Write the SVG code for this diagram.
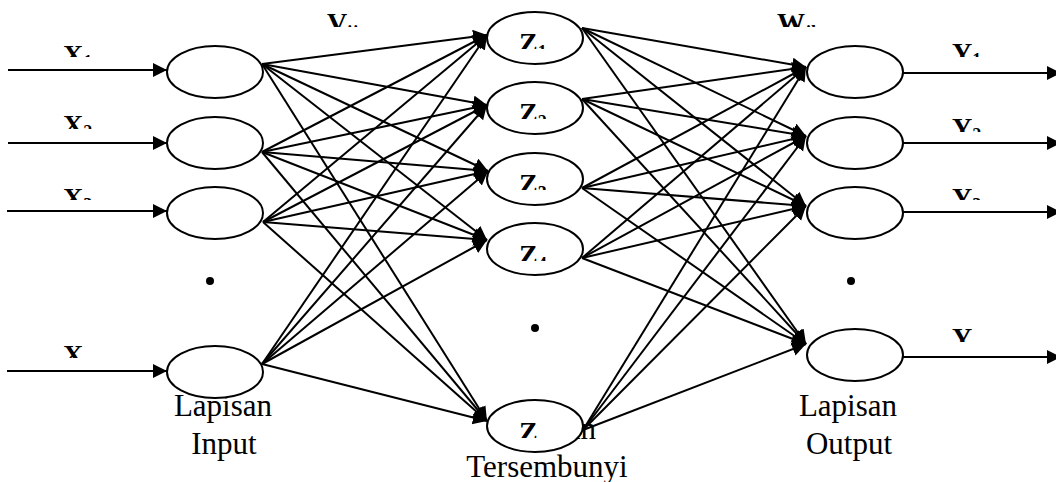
<svg xmlns="http://www.w3.org/2000/svg" width="1056" height="482" viewBox="0 0 1056 482">
<style>
.node{fill:#fff;stroke:#000;stroke-width:2}
.c line{stroke:#000;stroke-width:2;marker-end:url(#ah)}
.lbl{font-family:"Liberation Serif","Times New Roman",serif;font-weight:bold;font-size:28px;fill:#000}
.sub{font-size:18px}
.layer{font-family:"Liberation Serif","Times New Roman",serif;font-size:31px;fill:#000;text-anchor:middle}
</style>
<defs>
<marker id="ah" markerUnits="userSpaceOnUse" markerWidth="16" markerHeight="16" refX="14" refY="7" orient="auto">
<path d="M0,0 L14,7 L0,14 z" fill="#000"/>
</marker>
<clipPath id="cx1"><rect x="0" y="0" width="160" height="57"/></clipPath>
<clipPath id="cx2"><rect x="0" y="100" width="160" height="29"/></clipPath>
<clipPath id="cx3"><rect x="0" y="175" width="160" height="25"/></clipPath>
<clipPath id="cx4"><rect x="0" y="330" width="160" height="28"/></clipPath>
<clipPath id="cy1"><rect x="900" y="0" width="156" height="57"/></clipPath>
<clipPath id="cy2"><rect x="900" y="100" width="156" height="32"/></clipPath>
<clipPath id="cy3"><rect x="900" y="175" width="156" height="25"/></clipPath>
<clipPath id="cy4"><rect x="900" y="315" width="156" height="27"/></clipPath>
<clipPath id="cz1"><rect x="490" y="15" width="90" height="34"/></clipPath>
<clipPath id="cz2"><rect x="490" y="85" width="90" height="34"/></clipPath>
<clipPath id="cz3"><rect x="490" y="156" width="90" height="34"/></clipPath>
<clipPath id="cz4"><rect x="490" y="226" width="90" height="35"/></clipPath>
<clipPath id="cz5"><rect x="490" y="403" width="90" height="35"/></clipPath>
<clipPath id="cv"><rect x="300" y="0" width="120" height="27"/></clipPath>
<clipPath id="cw"><rect x="750" y="0" width="120" height="27"/></clipPath>
</defs>

<g id="layer-labels">
<text class="layer" x="223" y="416">Lapisan</text>
<text class="layer" x="224" y="454">Input</text>
<text class="layer" x="547" y="439">Lapisan</text>
<text class="layer" x="547" y="477">Tersembunyi</text>
<text class="layer" x="848" y="416">Lapisan</text>
<text class="layer" x="849" y="454">Output</text>
</g>

<g id="connectors" class="c">
<line x1="8" y1="70" x2="167" y2="70"/>
<line x1="8" y1="143" x2="167" y2="143"/>
<line x1="7" y1="211" x2="167" y2="211"/>
<line x1="7" y1="371" x2="167" y2="371"/>

<line x1="262" y1="64" x2="487" y2="35"/>
<line x1="262" y1="64" x2="487" y2="105"/>
<line x1="262" y1="64" x2="488" y2="171"/>
<line x1="262" y1="64" x2="487" y2="240"/>
<line x1="262" y1="64" x2="487" y2="421"/>

<line x1="262" y1="152" x2="487" y2="35"/>
<line x1="262" y1="152" x2="487" y2="105"/>
<line x1="262" y1="152" x2="488" y2="171"/>
<line x1="262" y1="152" x2="487" y2="240"/>
<line x1="262" y1="152" x2="487" y2="421"/>

<line x1="263" y1="222" x2="487" y2="35"/>
<line x1="263" y1="222" x2="487" y2="105"/>
<line x1="263" y1="222" x2="488" y2="171"/>
<line x1="263" y1="222" x2="487" y2="240"/>
<line x1="263" y1="222" x2="487" y2="421"/>

<line x1="262" y1="364" x2="487" y2="35"/>
<line x1="262" y1="364" x2="487" y2="105"/>
<line x1="262" y1="364" x2="488" y2="171"/>
<line x1="262" y1="364" x2="487" y2="240"/>
<line x1="262" y1="364" x2="487" y2="421"/>

<line x1="582" y1="28" x2="806" y2="67"/>
<line x1="582" y1="28" x2="806" y2="136"/>
<line x1="582" y1="28" x2="806" y2="206"/>
<line x1="582" y1="28" x2="806" y2="344"/>

<line x1="582" y1="99" x2="806" y2="67"/>
<line x1="582" y1="99" x2="806" y2="136"/>
<line x1="582" y1="99" x2="806" y2="206"/>
<line x1="582" y1="99" x2="806" y2="344"/>

<line x1="582" y1="188" x2="806" y2="67"/>
<line x1="582" y1="188" x2="806" y2="136"/>
<line x1="582" y1="188" x2="806" y2="206"/>
<line x1="582" y1="188" x2="806" y2="344"/>

<line x1="582" y1="258" x2="806" y2="67"/>
<line x1="582" y1="258" x2="806" y2="136"/>
<line x1="582" y1="258" x2="806" y2="206"/>
<line x1="582" y1="258" x2="806" y2="344"/>

<line x1="583" y1="430" x2="806" y2="67"/>
<line x1="583" y1="430" x2="806" y2="136"/>
<line x1="583" y1="430" x2="806" y2="206"/>
<line x1="583" y1="430" x2="806" y2="344"/>

<line x1="903" y1="73" x2="1061" y2="73"/>
<line x1="903" y1="143" x2="1061" y2="143"/>
<line x1="903" y1="212" x2="1061" y2="212"/>
<line x1="903" y1="357" x2="1061" y2="357"/>
</g>

<g id="input-1"><ellipse class="node" cx="215" cy="72" rx="48" ry="26"/></g>
<g id="input-2"><ellipse class="node" cx="215" cy="143" rx="48" ry="26"/></g>
<g id="input-3"><ellipse class="node" cx="215" cy="213" rx="48" ry="26"/></g>
<g id="input-dots"><circle cx="210" cy="281" r="4" fill="#000"/></g>
<g id="input-n"><ellipse class="node" cx="215" cy="372" rx="48" ry="26"/></g>

<g id="hidden-1"><ellipse class="node" cx="535" cy="38" rx="48" ry="26"/>
<text class="lbl" x="519" y="51.5" clip-path="url(#cz1)">Z<tspan class="sub" dy="6">1</tspan></text></g>
<g id="hidden-2"><ellipse class="node" cx="535" cy="108" rx="48" ry="26"/>
<text class="lbl" x="519" y="121.5" clip-path="url(#cz2)">Z<tspan class="sub" dy="6">2</tspan></text></g>
<g id="hidden-3"><ellipse class="node" cx="535" cy="179" rx="48" ry="26"/>
<text class="lbl" x="519" y="192.5" clip-path="url(#cz3)">Z<tspan class="sub" dy="6">3</tspan></text></g>
<g id="hidden-4"><ellipse class="node" cx="535" cy="249" rx="48" ry="26"/>
<text class="lbl" x="519" y="263.5" clip-path="url(#cz4)">Z<tspan class="sub" dy="6">4</tspan></text></g>
<g id="hidden-dots"><circle cx="535" cy="328" r="4" fill="#000"/></g>
<g id="hidden-p"><ellipse class="node" cx="535" cy="426" rx="48" ry="26"/>
<text class="lbl" x="519" y="440.5" clip-path="url(#cz5)">Z</text></g>

<g id="output-1"><ellipse class="node" cx="855" cy="72" rx="48" ry="26"/></g>
<g id="output-2"><ellipse class="node" cx="855" cy="143" rx="48" ry="26"/></g>
<g id="output-3"><ellipse class="node" cx="855" cy="213" rx="48" ry="26"/></g>
<g id="output-dots"><circle cx="851" cy="281" r="4" fill="#000"/></g>
<g id="output-m"><ellipse class="node" cx="855" cy="355" rx="48" ry="26"/></g>

<g id="edge-labels">
<text class="lbl" x="63" y="63.5" clip-path="url(#cx1)">X<tspan class="sub" dy="4">1</tspan></text>
<text class="lbl" x="63" y="133.5" clip-path="url(#cx2)">X<tspan class="sub" dy="4">2</tspan></text>
<text class="lbl" x="63" y="206.5" clip-path="url(#cx3)">X<tspan class="sub" dy="4">3</tspan></text>
<text class="lbl" x="63" y="363.5" clip-path="url(#cx4)">X</text>
<text class="lbl" x="952" y="61.5" clip-path="url(#cy1)">Y<tspan class="sub" dy="4">1</tspan></text>
<text class="lbl" x="952" y="136.5" clip-path="url(#cy2)">Y<tspan class="sub" dy="4">2</tspan></text>
<text class="lbl" x="952" y="206.5" clip-path="url(#cy3)">Y<tspan class="sub" dy="4">3</tspan></text>
<text class="lbl" x="952" y="346.5" clip-path="url(#cy4)">Y</text>
<text class="lbl" x="327" y="31.5" clip-path="url(#cv)">V<tspan class="sub" dy="6">ij</tspan></text>
<text class="lbl" x="777" y="31.5" clip-path="url(#cw)">W<tspan class="sub" dy="6">jk</tspan></text>
</g>
</svg>
